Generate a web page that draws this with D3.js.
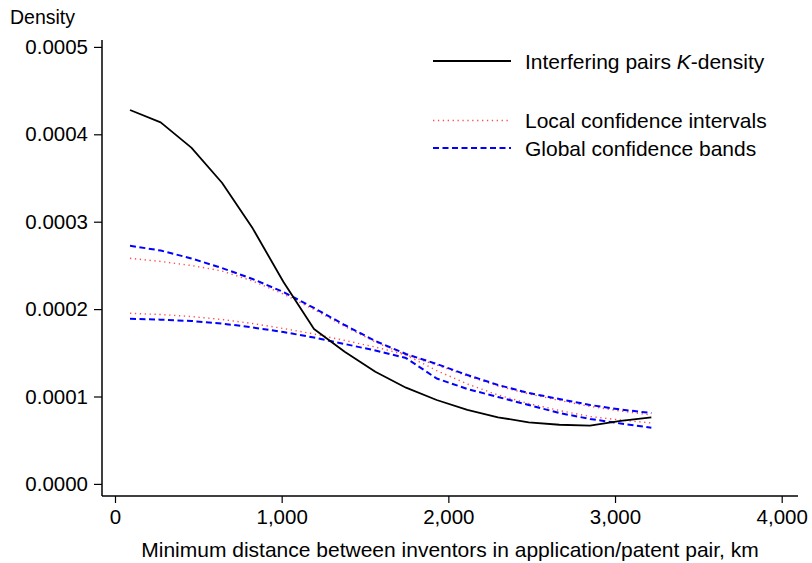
<!DOCTYPE html>
<html>
<head>
<meta charset="utf-8">
<script src="https://cdn.jsdelivr.net/npm/d3@7"></script>
<style>
  html, body { margin: 0; padding: 0; background: #fff; }
  svg { display: block; font-family: "Liberation Sans", Arial, Helvetica, sans-serif; }
</style>
</head>
<body>
<svg id="chart" width="812" height="563"></svg>
<script>
// ---- data ----
const distances = [90, 274, 458, 642, 826, 1010, 1194, 1378, 1562, 1746, 1930, 2114, 2298, 2482, 2666, 2850, 3034, 3218];
const kDensity = [0.0004278, 0.0004137, 0.0003847, 0.0003446, 0.0002924, 0.0002313, 0.0001772, 0.0001513, 0.0001284, 0.0001101, 0.0000960, 0.0000846, 0.0000762, 0.0000705, 0.0000677, 0.0000666, 0.0000720, 0.0000762];
const localUpper = [0.0002581, 0.0002545, 0.0002499, 0.0002436, 0.0002321, 0.0002173, 0.0001995, 0.0001801, 0.0001624, 0.0001476, 0.0001360, 0.0001235, 0.0001120, 0.0001029, 0.0000955, 0.0000887, 0.0000834, 0.0000788];
const localLower = [0.0001952, 0.0001938, 0.0001915, 0.0001881, 0.0001835, 0.0001778, 0.0001715, 0.0001641, 0.0001566, 0.0001475, 0.0001297, 0.0001143, 0.0001017, 0.0000920, 0.0000840, 0.0000771, 0.0000731, 0.0000697];
const globalUpper = [0.0002725, 0.0002670, 0.0002580, 0.0002470, 0.0002344, 0.0002196, 0.0002013, 0.0001818, 0.0001635, 0.0001486, 0.0001372, 0.0001246, 0.0001132, 0.0001040, 0.0000971, 0.0000903, 0.0000851, 0.0000811];
const globalLower = [0.0001890, 0.0001879, 0.0001864, 0.0001835, 0.0001790, 0.0001738, 0.0001675, 0.0001601, 0.0001526, 0.0001440, 0.0001206, 0.0001086, 0.0000994, 0.0000903, 0.0000811, 0.0000743, 0.0000691, 0.0000643];
const xTicks = [0, 1000, 2000, 3000, 4000];
const yTicks = [0, 0.0001, 0.0002, 0.0003, 0.0004, 0.0005];
const yTitle = "Density";
const xTitle = "Minimum distance between inventors in application/patent pair, km";

// ---- layout ----
const svg = d3.select("#chart");
const x = d3.scaleLinear().domain([0, 4000]).range([115, 781.7]);
const y = d3.scaleLinear().domain([0, 0.0005]).range([483.9, 46.9]);
const axisLeftX = 102, axisBottomY = 496;
const tickFont = 20.5, legendFont = 21, titleFont = 21, yTitleFont = 19.5;

// axes
const yAxis = d3.axisLeft(y).tickValues(yTicks).tickFormat(d3.format(".4f")).tickSize(8).tickSizeOuter(0).tickPadding(6);
const gy = svg.append("g").attr("transform", `translate(${axisLeftX},0)`).call(yAxis);
gy.select(".domain").remove();
gy.selectAll("text").attr("font-size", tickFont).attr("font-family", null).attr("fill", "#000");
gy.selectAll("line").attr("stroke", "#000").attr("stroke-width", 1.2);

const xAxis = d3.axisBottom(x).tickValues(xTicks).tickFormat(d3.format(",")).tickSize(7).tickSizeOuter(0).tickPadding(6);
const gx = svg.append("g").attr("transform", `translate(0,${axisBottomY})`).call(xAxis);
gx.select(".domain").remove();
gx.selectAll("text").attr("font-size", tickFont).attr("font-family", null).attr("fill", "#000");
gx.selectAll("line").attr("stroke", "#000").attr("stroke-width", 1.2);

// axis lines
svg.append("line").attr("x1", axisLeftX).attr("x2", axisLeftX).attr("y1", 40).attr("y2", axisBottomY)
  .attr("stroke", "#000").attr("stroke-width", 1.5);
svg.append("line").attr("x1", axisLeftX).attr("x2", 798).attr("y1", axisBottomY).attr("y2", axisBottomY)
  .attr("stroke", "#000").attr("stroke-width", 1.5);

// titles
svg.append("text").attr("x", 10).attr("y", 24).attr("font-size", yTitleFont).text(yTitle);
svg.append("text").attr("x", 450).attr("y", 557).attr("text-anchor", "middle").attr("font-size", titleFont).text(xTitle);

// lines
const line = d3.line().x((d, i) => x(distances[i])).y(d => y(d));
const styles = {
  red: { stroke: "#ff4d4d", width: 1.4, dash: "1.3,3.6" },
  blue: { stroke: "#0000ff", width: 2, dash: "6,3.5" },
  black: { stroke: "#000", width: 1.8, dash: null }
};
function draw(data, s) {
  const p = svg.append("path").datum(data).attr("d", line).attr("fill", "none")
    .attr("stroke", s.stroke).attr("stroke-width", s.width).attr("stroke-linejoin", "round");
  if (s.dash) p.attr("stroke-dasharray", s.dash);
}
draw(localUpper, styles.red);
draw(localLower, styles.red);
draw(globalUpper, styles.blue);
draw(globalLower, styles.blue);
draw(kDensity, styles.black);

// legend
const legend = [
  { y: 61, s: styles.black, label: ["Interfering pairs ", "K", "-density"] },
  { y: 120.5, s: styles.red, label: ["Local confidence intervals"] },
  { y: 148, s: styles.blue, label: ["Global confidence bands"] }
];
legend.forEach(it => {
  const l = svg.append("line").attr("x1", 433).attr("x2", 511).attr("y1", it.y).attr("y2", it.y)
    .attr("stroke", it.s.stroke).attr("stroke-width", it.s.width);
  if (it.s.dash) l.attr("stroke-dasharray", it.s.dash);
  const t = svg.append("text").attr("x", 525).attr("y", it.y + 7.5).attr("font-size", legendFont);
  it.label.forEach((part, i) => {
    const ts = t.append("tspan").text(part);
    if (part === "K") ts.attr("font-style", "italic");
  });
});
</script>
</body>
</html>
